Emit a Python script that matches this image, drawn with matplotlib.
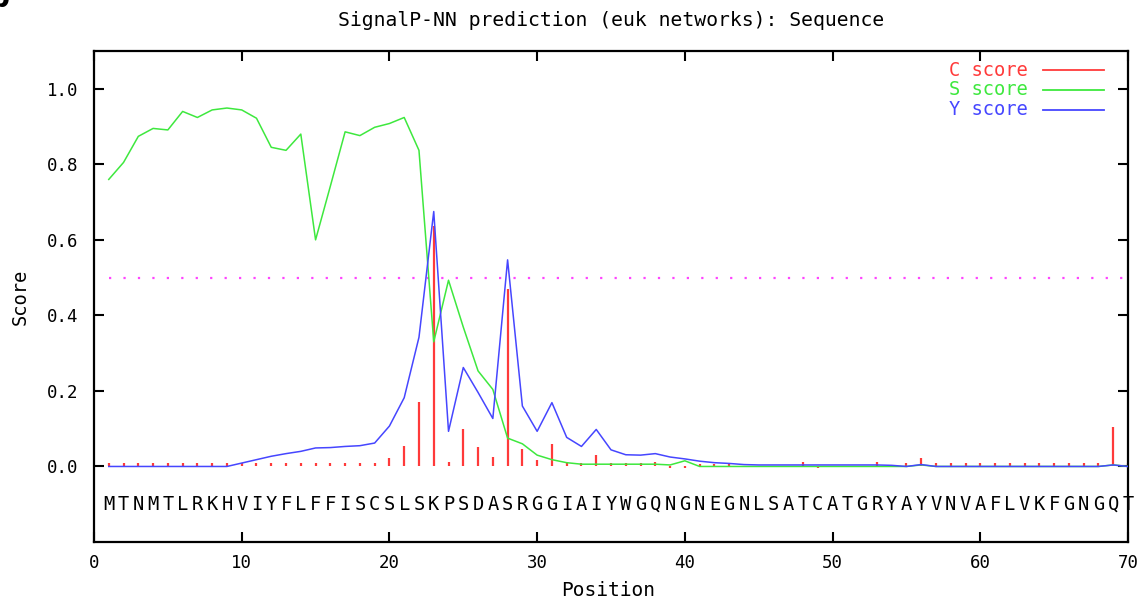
import numpy as np
import matplotlib
matplotlib.use("Agg")
import matplotlib.pyplot as plt

# ---------------- data ----------------
residues = list("MTNMTLRKHVIYFLFFISCSLSKPSDASRGGIAIYWGQNGNEGNLSATCATGRYAYVNVAFLVKFGNGQT")
positions = np.arange(1, len(residues) + 1)

c_score = [0.008, 0.008, 0.008, 0.008, 0.008, 0.008, 0.008, 0.008, 0.008, 0.008,
           0.008, 0.008, 0.008, 0.008, 0.008, 0.008, 0.008, 0.008, 0.008, 0.022,
           0.055, 0.170, 0.636, 0.011, 0.100, 0.051, 0.026, 0.470, 0.046, 0.017,
           0.060, 0.013, 0.010, 0.031, 0.010, 0.010, 0.010, 0.012, -0.004, -0.004,
           0.006, 0.006, 0.006, 0.002, 0.002, 0.002, 0.002, 0.011, -0.004, 0.002,
           0.002, 0.002, 0.011, 0.002, 0.008, 0.022, 0.008, 0.008, 0.008, 0.008,
           0.008, 0.008, 0.008, 0.008, 0.008, 0.008, 0.008, 0.008, 0.104, 0.008]

s_score = [0.760, 0.805, 0.874, 0.895, 0.891, 0.940, 0.924, 0.944, 0.949, 0.944,
           0.922, 0.845, 0.837, 0.880, 0.600, 0.742, 0.886, 0.876, 0.898, 0.908,
           0.924, 0.837, 0.330, 0.493, 0.369, 0.253, 0.204, 0.075, 0.060, 0.030,
           0.018, 0.010, 0.006, 0.006, 0.006, 0.006, 0.006, 0.006, 0.004, 0.015,
           0.000, 0.000, 0.000, 0.000, 0.000, 0.000, 0.000, 0.000, 0.000, 0.000,
           0.000, 0.000, 0.000, 0.000, 0.000, 0.004, 0.000, 0.000, 0.000, 0.000,
           0.000, 0.000, 0.000, 0.000, 0.000, 0.000, 0.000, 0.000, 0.004, 0.000]

y_score = [0.000, 0.000, 0.000, 0.000, 0.000, 0.000, 0.000, 0.000, 0.000, 0.009,
           0.018, 0.027, 0.034, 0.040, 0.049, 0.050, 0.053, 0.055, 0.062, 0.107,
           0.182, 0.342, 0.675, 0.093, 0.262, 0.196, 0.127, 0.547, 0.160, 0.093,
           0.169, 0.077, 0.053, 0.098, 0.044, 0.031, 0.030, 0.034, 0.025, 0.020,
           0.014, 0.010, 0.008, 0.005, 0.004, 0.004, 0.004, 0.004, 0.004, 0.004,
           0.004, 0.004, 0.004, 0.003, 0.000, 0.005, 0.000, 0.000, 0.000, 0.000,
           0.000, 0.000, 0.000, 0.000, 0.000, 0.000, 0.000, 0.000, 0.004, 0.000]

cutoff = 0.5
x_ticks = [0, 10, 20, 30, 40, 50, 60, 70]
y_ticks = [0.0, 0.2, 0.4, 0.6, 0.8, 1.0]
y_tick_labels = ["0.0", "0.2", "0.4", "0.6", "0.8", "1.0"]

title = "SignalP-NN prediction (euk networks): Sequence"
legend_labels = ["C score", "S score", "Y score"]

# ---------------- style ----------------
RED = "#ff3a3a"
GREEN = "#3ee83e"
BLUE = "#4646ff"
MAGENTA = "#ff44ff"
FONT = "DejaVu Sans Mono"

plt.rcParams["font.family"] = FONT

W, H = 1145, 599
fig = plt.figure(figsize=(W / 100, H / 100), dpi=100)
L, R, T, B = 94, 1128, 51, 542
ax = fig.add_axes([L / W, 1 - B / H, (R - L) / W, (B - T) / H])

ax.set_xlim(0, 70)
ax.set_ylim(-0.2, 1.1)

# cutoff line
ax.plot([positions[0], positions[-1]], [cutoff, cutoff], color=MAGENTA,
        lw=1.6, linestyle=(0, (1, 5.5)), zorder=1)

# C score impulses
ax.vlines(positions, 0, c_score, color=RED, lw=1.6, zorder=2)
# S score
ax.plot(positions, s_score, color=GREEN, lw=1.1, zorder=3)
# Y score
ax.plot(positions, y_score, color=BLUE, lw=1.1, zorder=4)

# sequence letters
for p, aa in zip(positions, residues):
    ax.text(p, -0.1, aa, ha="center", va="center", fontsize=13.5,
            color="black", clip_on=False)

# ticks
ax.set_xticks(x_ticks)
ax.set_yticks(y_ticks)
ax.set_yticklabels(y_tick_labels)
ax.tick_params(direction="in", length=7, width=1.5, top=True, right=True,
               labelsize=12.5)
ax.tick_params(axis="y", pad=11)
ax.tick_params(axis="x", pad=9)
for s in ax.spines.values():
    s.set_linewidth(1.6)

# legend (manual, gnuplot-like)
leg_y = [0.961, 0.921, 0.880]
for lab, col, yy in zip(legend_labels, [RED, GREEN, BLUE], leg_y):
    ax.text(0.903, yy, lab, transform=ax.transAxes, ha="right", va="center",
            fontsize=13.5, color=col)
    ax.plot([0.918, 0.977], [yy, yy], transform=ax.transAxes, color=col,
            lw=1.3)

# title and labels
fig.text(611 / W, 1 - 20 / H, title, ha="center", va="center", fontsize=14.2)
fig.text(20 / W, 1 - 297 / H, "Score", rotation=90, ha="center", va="center",
         fontsize=13.5)
fig.text(608 / W, 1 - 590 / H, "Position", ha="center", va="center",
         fontsize=14)

# partial panel letter peeking in at the top-left corner
fig.text(9 / W, 1 - 7 / H, "b", ha="right", va="baseline", fontsize=20,
         fontweight="bold", family="DejaVu Sans")

fig.savefig("out.png", dpi=100)
